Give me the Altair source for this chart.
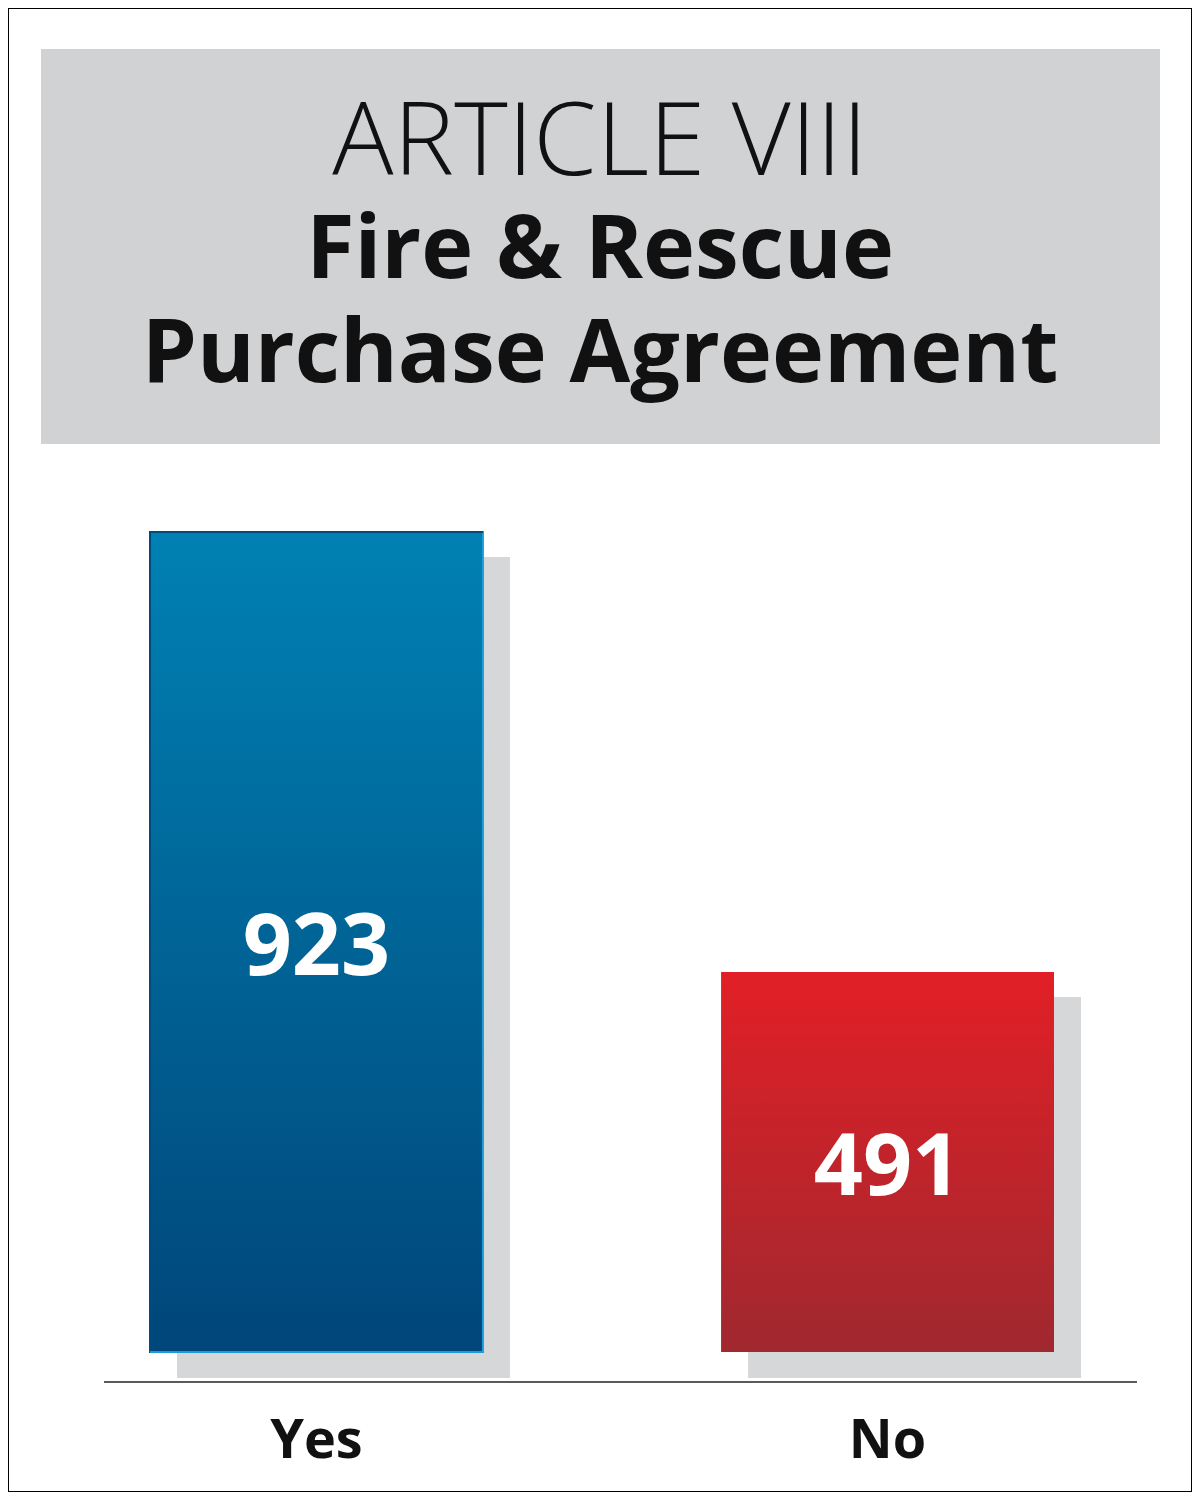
import altair as alt
import pandas as pd

# ラベルと得票数
CATEGORIES = ["Yes", "No"]
VOTES = [923, 491]
BASE = 118  # 棒の根元 (元の図は軸が切り詰められている)

TITLE_TOP = "ARTICLE VIII"
TITLE_LINES = ["Fire & Rescue", "Purchase Agreement"]

FONT = "Open Sans"

df = pd.DataFrame({"cat": CATEGORIES, "votes": VOTES})
df["base"] = BASE

x_enc = alt.X("cat:N", sort=CATEGORIES, axis=None,
              scale=alt.Scale(domain=CATEGORIES, range=[142, 1046], paddingInner=0.417, paddingOuter=0))
y_enc = alt.Y("votes:Q", axis=None,
              scale=alt.Scale(domain=[BASE, max(VOTES)], range=[1344, 524], nice=False, zero=False))


def grad(stops, x2=0, y2=1):
    return alt.LinearGradient(gradient="linear", x1=0, x2=x2, y1=0, y2=y2,
                              stops=[alt.GradientStop(color=c, offset=o) for c, o in stops])


base = alt.Chart(df)

# 上のタイトル枠
box = alt.Chart(pd.DataFrame({"k": [0]})).mark_rect(color="#D1D2D4").encode(
    x=alt.value(33), x2=alt.value(1152), y=alt.value(41), y2=alt.value(436))

title_top = alt.Chart(pd.DataFrame({"t": [TITLE_TOP]})).mark_text(
    font=FONT, fontWeight=300, fontSize=102, color="#111111", align="center", baseline="alphabetic"
).encode(text="t:N", x=alt.value(592), y=alt.value(167))

title_rows = []
for line, yy in zip(TITLE_LINES, [270, 374]):
    title_rows.append(alt.Chart(pd.DataFrame({"t": [line]})).mark_text(
        font=FONT, fontWeight="bold", fontSize=88, color="#111111", align="center", baseline="alphabetic"
    ).encode(text="t:N", x=alt.value(592), y=alt.value(yy)))

# 影
shadow = base.mark_bar(color="#D6D7D9", xOffset=27, yOffset=25, y2Offset=26).encode(
    x=x_enc, y=y_enc, y2="base:Q")

bar_yes = base.transform_filter(alt.datum.cat == "Yes").mark_bar(
    color=grad([("#0081B3", 0), ("#00467A", 1)]),
    stroke=grad([("#004A7E", 0), ("#004A7E", 0.5), ("#1E9AD6", 0.5), ("#1E9AD6", 1)], x2=1, y2=1),
    strokeWidth=2
).encode(x=x_enc, y=y_enc, y2="base:Q")

bar_no = base.transform_filter(alt.datum.cat == "No").mark_bar(
    color=grad([("#E21F26", 0), ("#A0282F", 1)])
).encode(x=x_enc, y=y_enc, y2="base:Q")

nums = base.transform_calculate(mid="(datum.votes + datum.base) / 2").mark_text(
    font=FONT, fontWeight="bold", fontSize=86, color="white", baseline="middle", dy=7
).encode(x=x_enc, y=alt.Y("mid:Q"), text="votes:Q")

rule = alt.Chart(pd.DataFrame({"k": [0]})).mark_rule(color="#5A5A5A", strokeWidth=2).encode(
    x=alt.value(96), x2=alt.value(1129), y=alt.value(1374))

labels = base.mark_text(
    font=FONT, fontWeight="bold", fontSize=54, color="#111111", baseline="alphabetic"
).encode(x=x_enc, y=alt.value(1450), text="cat:N")

chart = alt.layer(box, title_top, *title_rows, shadow, bar_yes, bar_no, nums, rule, labels).properties(
    width=1184, height=1484, padding=0, autosize="none"
).configure_view(stroke="#000000", strokeWidth=2, fill="white")

chart.save("out.html", embed_options={"renderer": "svg", "actions": False})
